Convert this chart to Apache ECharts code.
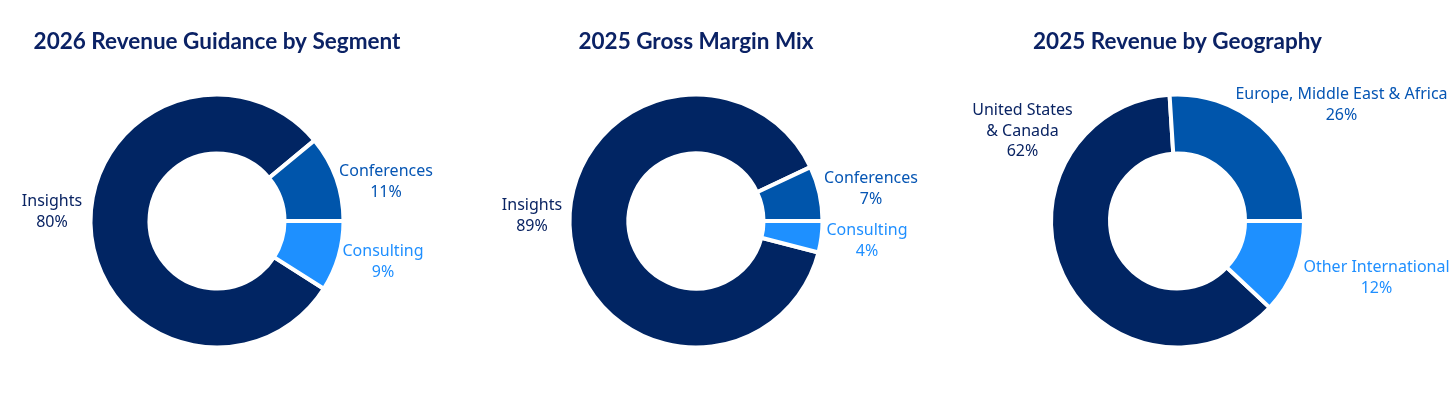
<!DOCTYPE html>
<html>
<head>
<meta charset="utf-8">
<script src="https://cdn.jsdelivr.net/npm/echarts@6/dist/echarts.min.js"></script>
<style>
html,body{margin:0;padding:0;background:#fff;}
#chart{width:1456px;height:396px;}
</style>
</head>
<body>
<div id="chart"></div>
<script>
// ---- data ----
const titles = ['2026 Revenue Guidance by Segment', '2025 Gross Margin Mix', '2025 Revenue by Geography'];

const segCategories = ['Insights', 'Conferences', 'Consulting'];
const guidance2026 = [80, 11, 9];
const grossMargin2025 = [89, 7, 4];

const geoCategories = ['United States\n& Canada', 'Europe, Middle East & Africa', 'Other International'];
const revenueGeo2025 = [62, 26, 12];

// ---- styles / layout ----
const colors = ['#012563', '#0055ab', '#1e90ff'];
const labelColors = ['#0a2463', '#0656b4', '#1f8fff'];
const centers = [[217, 221], [696, 221], [1177.5, 221]];
const titleFont = 'Lato, "Noto Sans", sans-serif';
const labelFont = '"Noto Sans", Lato, sans-serif';
// label offsets from each donut centre (layout only)
const labelOffsets = [
  [[-165, -9], [169, -39], [166, 41]],
  [[-164, -5], [175, -32], [171, 20]],
  [[-155, -90], [164, -116], [199, 57]]
];

const charts = [
  {cats: segCategories, vals: guidance2026},
  {cats: segCategories, vals: grossMargin2025},
  {cats: geoCategories, vals: revenueGeo2025}
];

const el = document.getElementById('chart');
const chart = echarts.init(el, null, {renderer: 'canvas'});

const series = charts.map((c, ci) => {
  const last = c.vals[c.vals.length - 1];
  const total = c.vals.reduce((a, b) => a + b, 0);
  return {
    type: 'pie',
    center: centers[ci],
    radius: [67.5, 126.5],
    startAngle: -(last / total) * 360,
    clockwise: true,
    silent: true,
    animation: false,
    avoidLabelOverlap: false,
    itemStyle: {borderColor: '#ffffff', borderWidth: 4},
    label: {
      show: true,
      position: 'outside',
      formatter: p => p.name + '\n' + p.value + '%',
      fontFamily: labelFont,
      fontSize: 16,
      lineHeight: 20.5,
      align: 'center'
    },
    labelLine: {show: false},
    labelLayout: p => {
      const o = labelOffsets[ci][p.dataIndex];
      return {x: centers[ci][0] + o[0], y: centers[ci][1] + o[1], align: 'center', verticalAlign: 'middle'};
    },
    data: c.cats.map((name, i) => ({
      name: name,
      value: c.vals[i],
      itemStyle: {color: colors[i]},
      label: {color: labelColors[i]}
    }))
  };
});

chart.setOption({
  backgroundColor: '#ffffff',
  animation: false,
  graphic: titles.map((t, i) => ({
    type: 'text',
    x: centers[i][0],
    y: 42,
    style: {
      text: t,
      fill: '#0b2265',
      font: 'bold 22.5px ' + titleFont,
      textAlign: 'center',
      textVerticalAlign: 'middle'
    }
  })),
  series: series
});
</script>
</body>
</html>
